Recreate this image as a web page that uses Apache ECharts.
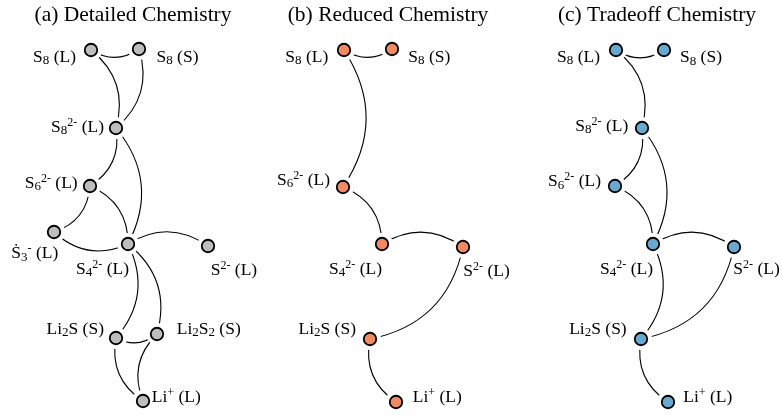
<!DOCTYPE html>
<html><head><meta charset="utf-8">
<script src="https://cdn.jsdelivr.net/npm/echarts@6/dist/echarts.min.js"></script>
<style>html,body{margin:0;padding:0;background:#fff}#c{width:782px;height:418px}</style>
</head><body><div id="c"></div>
<script>
// ---------- data ----------
const titles = ['(a) Detailed Chemistry', '(b) Reduced Chemistry', '(c) Tradeoff Chemistry'];

const labelText = {
  S8L: '{m|S}{sub|8}{m| (L)}',
  S8S: '{m|S}{sub|8}{m| (S)}',
  S82: '{m|S}{sub|8}{sup|2-}{m| (L)}',
  S62: '{m|S}{sub|6}{sup|2-}{m| (L)}',
  S3: '{m|Ṡ}{sub|3}{sup|-}{m| (L)}',
  S42: '{m|S}{sub|4}{sup|2-}{m| (L)}',
  S2: '{m|S}{sup|2-}{m| (L)}',
  Li2S: '{m|Li}{sub|2}{m|S (S)}',
  Li2S2: '{m|Li}{sub|2}{m|S}{sub|2}{m| (S)}',
  Li: '{m|Li}{sup|+}{m| (L)}'
};

// node layout coordinates (graph layout units)
const aNames = ['S8L', 'S8S', 'S82', 'S62', 'S3', 'S42', 'S2', 'Li2S', 'Li2S2', 'Li'];
const aX = [91, 139, 116, 90, 54, 128, 208, 116, 157, 143];
const aY = [50, 49, 128, 186, 232, 244, 246, 338, 334, 401];

const bNames = ['S8L', 'S8S', 'S62', 'S42', 'S2', 'Li2S', 'Li'];
const bX = [344, 392, 343, 382, 463, 370, 396];
const bY = [50, 49, 187, 244, 247, 339, 402];

const cNames = ['S8L', 'S8S', 'S82', 'S62', 'S42', 'S2', 'Li2S', 'Li'];
const cX = [616, 664, 642, 615, 653, 734, 641, 668];
const cY = [50, 50, 128, 186, 244, 247, 339, 402];

const aLinks = [['S8L','S8S'],['S8L','S82'],['S8S','S82'],['S82','S62'],['S82','S42'],['S62','S3'],['S62','S42'],['S3','S42'],['S42','S2'],['S42','Li2S'],['S42','Li2S2'],['Li2S','Li2S2'],['Li2S','Li'],['Li2S2','Li']];
const bLinks = [['S8L','S8S'],['S8L','S62'],['S62','S42'],['S42','S2'],['S2','Li2S'],['Li2S','Li']];
const cLinks = [['S8L','S8S'],['S8L','S82'],['S82','S62'],['S82','S42'],['S62','S42'],['S42','S2'],['S42','Li2S'],['S2','Li2S'],['Li2S','Li']];

// ---------- styles ----------
const aBend = [-1,1,1,1,1,1,1,-1,1,1,1,-1,-1,-1];
const bBend = [-1,1,1,1,1,-1];
const cBend = [-1,1,1,1,1,1,1,1,-1];
const CURVE = 0.33;

const aLab = {S8L:['right',-15,7], S8S:['left',17.5,8], S82:['right',-12,-1], S62:['right',-12.3,-3], S3:['right',4.3,21.5], S42:['right',1,25], S2:['left',2.7,24.5], Li2S:['right',-12,-9], Li2S2:['left',19.7,-5], Li:['left',8.7,-3.5]};
const bLab = {S8L:['right',-15.7,7], S8S:['left',16.3,8], S62:['right',-13,-7], S42:['right',0,25], S2:['left',0.3,24], Li2S:['right',-14,-10], Li:['left',16.7,-5]};
const cLab = {S8L:['right',-16,7], S8S:['left',16,7.5], S82:['right',-13.7,-2], S62:['right',-14,-4.5], S42:['right',0,25], S2:['left',-0.7,22], Li2S:['right',-14.3,-10], Li:['left',15.3,-5]};

const FONT = "'Liberation Serif', 'DejaVu Serif', 'Times New Roman', serif";
const rich = {
  m: {fontFamily: FONT, fontSize: 17.5, lineHeight: 21, color: '#000'},
  sub: {fontFamily: FONT, fontSize: 13, lineHeight: 13, verticalAlign: 'bottom', color: '#000'},
  sup: {fontFamily: FONT, fontSize: 12, lineHeight: 14, verticalAlign: 'top', color: '#000'}
};

const panels = [
  {names: aNames, xs: aX, ys: aY, links: aLinks, bend: aBend, lab: aLab, color: '#bdbdbd', tx: 133},
  {names: bNames, xs: bX, ys: bY, links: bLinks, bend: bBend, lab: bLab, color: '#ef8a62', tx: 388},
  {names: cNames, xs: cX, ys: cY, links: cLinks, bend: cBend, lab: cLab, color: '#67a9cf', tx: 657}
];

const series = [];
panels.forEach(p => {
  // edges + white halo (creates the gap between edge ends and nodes)
  series.push({
    type: 'graph', coordinateSystem: 'cartesian2d', layout: 'none',
    symbol: 'circle', symbolSize: 22, silent: true, animation: false,
    itemStyle: {color: '#fff', borderWidth: 0},
    label: {show: false},
    lineStyle: {color: '#000', width: 1.1, opacity: 1},
    emphasis: {disabled: true},
    data: p.names.map((n, i) => ({name: n, value: [p.xs[i], p.ys[i]]})),
    links: p.links.map((l, i) => ({source: l[0], target: l[1], lineStyle: {curveness: CURVE * p.bend[i]}}))
  });
  // visible nodes with labels
  series.push({
    type: 'graph', coordinateSystem: 'cartesian2d', layout: 'none',
    symbol: 'circle', symbolSize: 12.5, silent: true, animation: false,
    itemStyle: {color: p.color, borderColor: '#000', borderWidth: 1.8},
    emphasis: {disabled: true},
    data: p.names.map((n, i) => {
      const L = p.lab[n];
      return {
        name: n, value: [p.xs[i], p.ys[i]],
        label: {
          show: true, position: 'inside', align: L[0], verticalAlign: 'middle',
          offset: [L[1], L[2]], formatter: labelText[n], rich: rich
        }
      };
    }),
    links: []
  });
});

const chart = echarts.init(document.getElementById('c'), null, {renderer: 'canvas'});
chart.setOption({
  animation: false,
  backgroundColor: '#fff',
  grid: {left: 0, right: 0, top: 0, bottom: 0},
  xAxis: {type: 'value', min: 0, max: 782, show: false},
  yAxis: {type: 'value', min: 0, max: 418, inverse: true, show: false},
  graphic: panels.map((p, i) => ({
    type: 'text', x: p.tx, y: 15,
    style: {text: titles[i], font: "21.5px " + FONT, fill: '#000', align: 'center', verticalAlign: 'middle'}
  })),
  series: series
});
</script>
</body></html>
